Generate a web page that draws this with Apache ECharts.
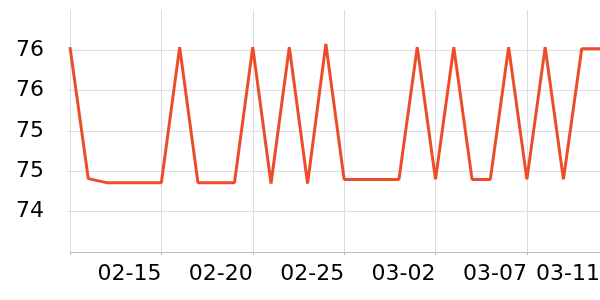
<!DOCTYPE html>
<html>
<head>
<meta charset="utf-8">
<script src="https://cdn.jsdelivr.net/npm/echarts@6/dist/echarts.min.js"></script>
<style>html,body{margin:0;padding:0;background:#fff}#c{width:600px;height:300px}</style>
</head>
<body>
<div id="c"></div>
<script>
const categories = ['02-10','02-11','02-12','02-13','02-14','02-15','02-16','02-17','02-18','02-19','02-20','02-21','02-22','02-23','02-24','02-25','02-26','02-27','02-28','03-01','03-02','03-03','03-04','03-05','03-06','03-07','03-08','03-09','03-10','03-11'];
const values = [76.54,74.91,74.86,74.86,74.86,74.86,76.54,74.86,74.86,74.86,76.54,74.85,76.54,74.85,76.58,74.90,74.90,74.90,74.90,76.54,74.90,76.54,74.90,74.90,76.54,74.90,76.54,74.90,76.52,76.52];
const yMin = 74, yMax = 77, yInterval = 0.5;

const chart = echarts.init(document.getElementById('c'), null, {renderer:'canvas'});
chart.setOption({
  animation: false,
  grid: {left: 70, right: 0, top: 10, bottom: 48, containLabel: false, outerBoundsMode: 'none'},
  xAxis: {
    type: 'category',
    data: categories,
    boundaryGap: false,
    axisLine: {lineStyle: {color: '#bbbbbb'}},
    axisTick: {length: 3, interval: 4, lineStyle: {color: '#bbbbbb'}},
    splitLine: {show: true, interval: 4, lineStyle: {color: '#dddddd'}},
    axisLabel: {
      interval: (i) => (i % 5 === 0 && i !== 0) || i === categories.length - 1,
      align: 'right', margin: 11,
      fontSize: 22, color: '#000', fontFamily: 'DejaVu Sans'
    }
  },
  yAxis: {
    type: 'value',
    min: yMin, max: yMax, interval: yInterval,
    axisLine: {show: true, lineStyle: {color: '#dddddd'}},
    axisTick: {show: true, length: 2, lineStyle: {color: '#dddddd'}},
    splitLine: {show: true, showMaxLine: false, lineStyle: {color: '#dddddd'}},
    axisLabel: {
      showMinLabel: false, showMaxLabel: false,
      margin: 26, fontSize: 22, color: '#000', fontFamily: 'DejaVu Sans',
      formatter: (v) => String(Math.floor(v))
    }
  },
  series: [{
    type: 'line', data: values, showSymbol: false,
    lineStyle: {color: '#ee4b2b', width: 3},
    itemStyle: {color: '#ee4b2b'}
  }]
});
</script>
</body>
</html>
